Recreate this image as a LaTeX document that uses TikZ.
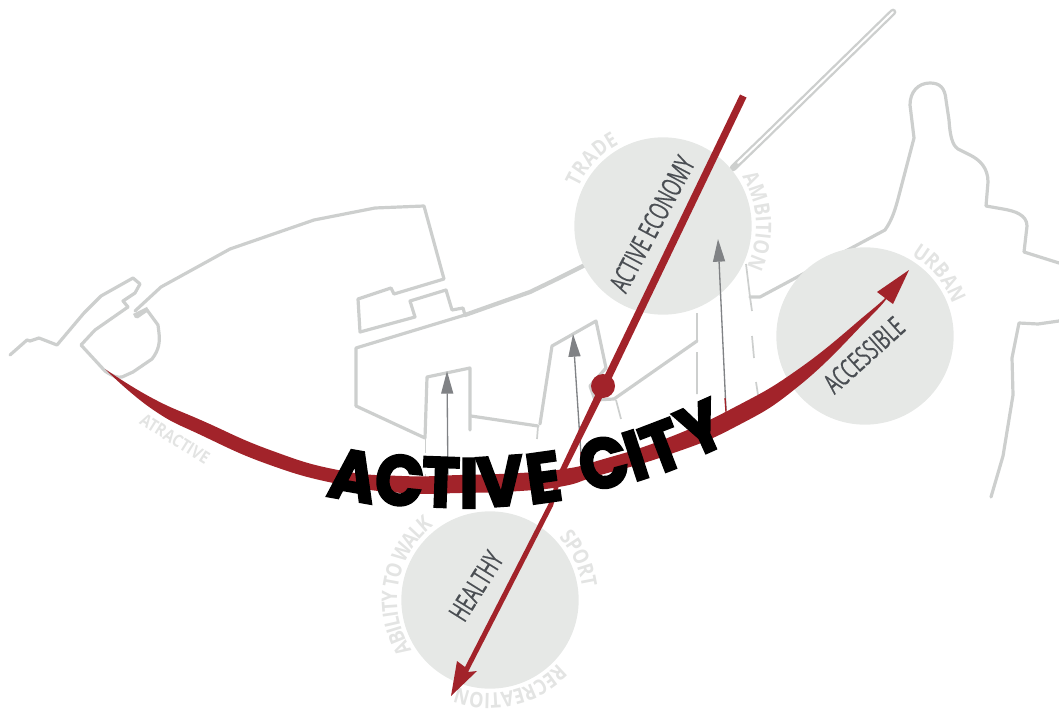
\documentclass[tikz,border=0pt]{standalone}
\usepackage{fontspec}
\usetikzlibrary{arrows.meta}
\newfontfamily\condfont[FakeStretch=0.63,FakeBold=0.35]{Open Sans}
\newfontfamily\lblfam[FakeStretch=0.85]{Open Sans Bold}
\newfontfamily\titlefont[FakeStretch=0.9,FakeBold=3.2]{Poppins Bold}
\newcommand{\lblf}{\lblfam\fontsize{16}{16}\selectfont}
\definecolor{roadgray}{HTML}{CDCFCE}
\definecolor{discgray}{HTML}{E6E8E6}
\definecolor{cityred}{HTML}{A2232A}
\definecolor{arrowgray}{HTML}{808285}
\definecolor{inkgray}{HTML}{4A4E53}
\definecolor{lblgray}{HTML}{E3E4E3}
\tikzset{
  road/.style={draw=roadgray,line width=2.4pt,line join=round,line cap=round},
  thinroad/.style={draw=roadgray,line width=1.3pt},
  disc/.style={circle,fill=discgray,inner sep=0pt,minimum size=133pt},
  upper/.style={draw=arrowgray,line width=1pt,-{Triangle[length=17pt,width=9pt,fill=arrowgray]}},
  ink/.style={text=inkgray,inner sep=0pt,font=\condfont\fontsize{21}{21}\selectfont},
  glyph/.style={anchor=base,inner sep=0pt,text=black,font=\titlefont\fontsize{53}{53}\selectfont},
  arcglyph/.style={anchor=base,inner sep=0pt,text=lblgray,font=\lblf}
}
\newlength\lblw \newlength\lbltotal
\newcommand{\lblmeasure}[1]{\pgfinterruptpicture\settowidth\lblw{\lblf #1}\global\lblw=\lblw\endpgfinterruptpicture}
% cx, cy, baseline radius, centre angle, tracking factor, name, letters
\newcommand{\arclabel}[7]{%
  \global\lbltotal=0pt
  \foreach \ch in {#7}{\lblmeasure{\ch}\global\advance\lbltotal by \lblw}%
  \pgfmathsetmacro{\lblk}{#5*57.296/((#3+4)*0.75)}%
  \pgfmathsetmacro{\lblstart}{#4+\lblk*\lbltotal/2}%
  \xdef\lblcur{\lblstart}%
  \foreach \ch [count=\i] in {#7}{%
    \lblmeasure{\ch}%
    \pgfmathsetmacro{\lbla}{\lblcur-\lblk*\lblw/2}%
    \pgfmathsetmacro{\lblnext}{\lblcur-\lblk*\lblw}%
    \node[arcglyph,rotate=\lbla-90] (#6-\i) at ({#1+#3*cos(\lbla)},{#2-#3*sin(\lbla)}) {\ch};
    \xdef\lblcur{\lblnext}%
  }%
}
\begin{document}
\begin{tikzpicture}[x=0.75pt,y=-0.75pt]
\useasboundingbox (0,0) rectangle (1059,709);
% coast, left
\draw[road] (10,355)--(27,340)--(30,341)--(39,338)--(57,345)--(84,313)--(101,296)--(133,278)--(140,284)--(135,293)--(123,301)--(128,307);
\draw[road] (128,307)--(95,330)--(81,345)--(105,371) .. controls (112,376) and (118,378) .. (122,377)--(133,372)--(152,359) .. controls (159,350) and (160,342) .. (159,333)--(158,325)--(147,310)--(137,317);
\draw[draw=roadgray,line width=3.4pt] (134,316)--(148,309);
\draw[road] (135,311)--(161,287)--(230,249)--(314,220)--(375,208)--(424,206)--(444,279)--(394,294)--(391,288)--(358,299)--(360,332)--(415,317)--(410,301)--(446,290)--(452,310)--(463,308)--(465,315);
% main road
\draw[road] (356,406)--(356,348)--(465,315);
\draw[road,line width=3.2pt] (465,315)--(530,292)--(557,279)--(585,265);
\draw[road] (356,406)--(425,438)--(427,377)--(470,368)--(470,430);
\draw[thinroad] (425.5,438)--(425.5,453) (425.5,474)--(425.5,484);
\draw[road] (471,416)--(538,426);
\draw[thinroad] (538,426)--(537,439);
\draw[road] (540,424)--(552,346)--(596,321)--(606,368)--(590,386)--(595,400)--(614,399)--(697,341);
\draw[thinroad] (697,313)--(697,341) (697,352)--(697,394) (616,400)--(621,419);
\draw[thinroad] (746,264)--(750,297)--(752,311) (752,336)--(754,358) (756,382)--(758,395);
% pier
\draw[draw=roadgray,line width=5pt,line cap=round,line join=round] (733,168)--(763,139)--(893,12);
\draw[draw=white,line width=1.5pt,line cap=round,line join=round] (738,163)--(763,139)--(893,12);
% right coast
\draw[road] (750,297)--(760,297)--(885,230) .. controls (892,220) and (895,210) .. (898,199)--(914,138)--(910,105) .. controls (910,92) and (918,83) .. (930,83) .. controls (940,83) and (945,88) .. (946,100)--(949,120) .. controls (950,135) and (952,145) .. (958,149)--(970,155) .. controls (980,160) and (988,168) .. (988,182)--(986,206)--(1003,209) .. controls (1015,211) and (1027,215) .. (1027,226)--(1024,252)--(1059,263);
\draw[road] (1059,321)--(1038,324)--(1019,323)--(1012,358)--(1013,395)--(1003,456)--(991,497);
% discs
\node[disc] (economy) at (663,226) {};
\node[disc] (accessible) at (865,336) {};
\node[disc] (healthy) at (490,600) {};
% curved labels
\arclabel{663}{226}{93}{137}{1.1}{trade}{T,R,A,D,E}
\arclabel{663}{226}{93}{3}{1.05}{ambition}{A,M,B,I,T,I,O,N}
\arclabel{865}{336}{93}{40}{1.05}{urban}{U,R,B,A,N}
\arclabel{490}{600}{93}{170}{0.92}{walk}{A,B,I,L,I,T,Y,~,T,O,~,W,A,L,K}
\arclabel{490}{600}{93}{25}{1}{sport}{S,P,O,R,T}
\arclabel{490}{600}{93}{-77}{1}{recreation}{R,E,C,R,E,A,T,I,O,N}
\node[rotate=-32,text=lblgray,inner sep=0pt,font=\lblfam\fontsize{13}{13}\selectfont] (atractive) at (175,439) {ATRACTIVE};
% disc titles
\node[ink,rotate=62] (economytext) at (652,224) {ACTIVE ECONOMY};
\node[ink,rotate=42] (accessibletext) at (864,355) {ACCESSIBLE};
\node[ink,rotate=58] (healthytext) at (476,586) {HEALTHY};
% grey arrows
\coordinate (a1s) at (448,484); \coordinate (a1e) at (447,371);
\coordinate (a2s) at (582,470); \coordinate (a2e) at (573,334);
\coordinate (a3s) at (726,410); \coordinate (a3e) at (718,239);
\draw[upper] (a1s)--(a1e);
\draw[upper] (a2s)--(a2e);
\draw[upper] (a3s)--(a3e);
\draw[cityred,line width=1pt] (582,470)--(581,452) (726,412)--(725,398);
% red axis
\fill[cityred] (740,94.5)--(746.5,97.5)--(607,388)--(560,482)--(553,506)--(468,672)--(477,671)--(451,696)--(457,661)--(465,667)--(552,497)--(555,480)--(600,385)--cycle;
\node[circle,fill=cityred,minimum size=18pt,inner sep=0pt] (hub) at (603,386) {};
% red swoosh
\fill[cityred] plot[smooth,tension=.8] coordinates {(105,369) (152,398) (203,421) (270,450) (338,470) (402,476) (460,475) (520,473) (564,469) (597,461) (665,439) (735,407) (800,368) (868,313) (885,298)}
 -- (877,292) -- (909,270) -- (893,304) -- (886,299)
 -- plot[smooth,tension=.8] coordinates {(886,299) (868,319) (800,385) (735,427) (665,456) (597,476) (564,486) (520,491) (460,493) (402,493) (338,484) (270,465) (203,436) (152,409) (105,369)} -- cycle;
% title
\node[glyph,rotate=-10] (l1) at (349,500) {A};
\node[glyph,rotate=-6] (l2) at (397,505) {C};
\node[glyph,rotate=-2] (l3) at (440,507) {T};
\node[glyph,rotate=0] (l4) at (469,508) {I};
\node[glyph,rotate=4] (l5) at (502,506) {V};
\node[glyph,rotate=8] (l6) at (547,502) {E};
\node[glyph,rotate=15] (l7) at (610,487) {C};
\node[glyph,rotate=18] (l8) at (643,479) {I};
\node[glyph,rotate=21] (l9) at (671,470) {T};
\node[glyph,rotate=24] (l10) at (711,451) {Y};
\end{tikzpicture}
\end{document}
